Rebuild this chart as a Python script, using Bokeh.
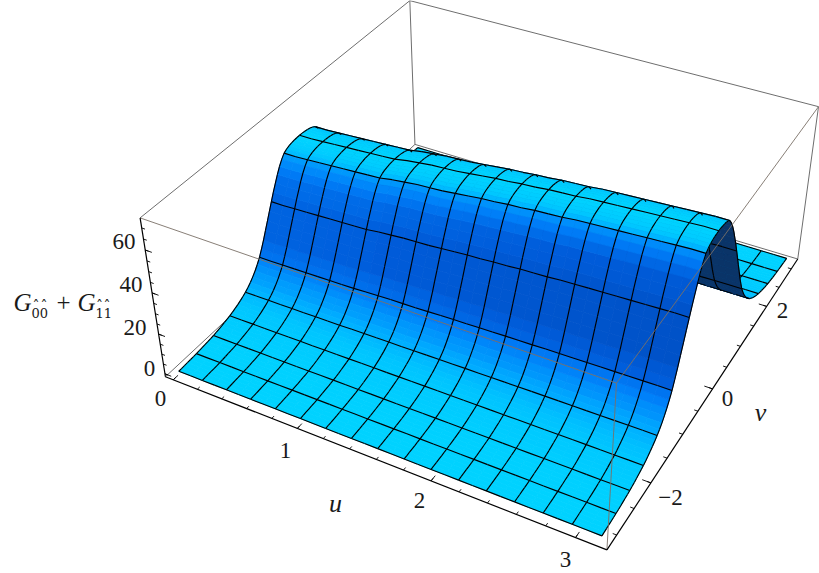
import numpy as np
from bokeh.plotting import figure
from bokeh.models import Range1d, ColumnDataSource
from bokeh.core.properties import value
from bokeh.embed import file_html
from bokeh.resources import INLINE

# ---- data ----
U_VALUES = [0.0, 0.098, 0.196, 0.295, 0.393, 0.491, 0.589, 0.687, 0.785, 0.884, 0.982, 1.08, 1.178, 1.276, 1.374,
            1.473, 1.571, 1.669, 1.767, 1.865, 1.963, 2.062, 2.16, 2.258, 2.356, 2.454, 2.553, 2.651, 2.749,
            2.847, 2.945, 3.043, 3.142]
CREST_SCALE = [0.80, 0.80, 0.805, 0.81, 0.815, 0.82, 0.825, 0.83, 0.835, 0.85, 0.86, 0.87, 0.875, 0.88, 0.89, 0.90,
               0.91, 0.915, 0.925, 0.93, 0.94, 0.945, 0.95, 0.96, 0.965, 0.97, 0.975, 0.98, 0.985, 0.99, 0.995,
               1.0, 1.0]
V_VALUES = [-3.142, -3.076, -3.011, -2.945, -2.88, -2.814, -2.749, -2.683, -2.618, -2.553, -2.487, -2.422, -2.356,
            -2.291, -2.225, -2.16, -2.094, -2.029, -1.963, -1.898, -1.833, -1.767, -1.702, -1.636, -1.571,
            -1.505, -1.44, -1.374, -1.309, -1.244, -1.178, -1.113, -1.047, -0.982, -0.916, -0.851, -0.785,
            -0.72, -0.654, -0.589, -0.524, -0.458, -0.393, -0.327, -0.262, -0.196, -0.131, -0.065, 0.0,
            0.065, 0.131, 0.196, 0.262, 0.327, 0.393, 0.458, 0.524, 0.589, 0.654, 0.72, 0.785,
            0.851, 0.916, 0.982, 1.047, 1.113, 1.178, 1.244, 1.309, 1.374, 1.44, 1.505, 1.571,
            1.636, 1.702, 1.767, 1.833, 1.898, 1.963, 2.029, 2.094, 2.16, 2.225, 2.291, 2.356,
            2.422, 2.487, 2.553, 2.618, 2.683, 2.749, 2.814, 2.88, 2.945, 3.011, 3.076, 3.142]
RIDGE_Z = [0.0, 0.1, 0.2, 0.3, 0.4, 0.52, 0.65, 0.82, 1.0, 1.2, 1.4, 1.64, 1.9, 2.23, 2.6, 3.03, 3.5, 3.98, 4.5,
           5.15, 5.9, 6.7, 7.6, 8.65, 9.8, 11.2, 12.8, 14.8, 17.0, 19.6, 22.6, 26.4, 30.5, 35.0, 39.5, 44.0, 48.5,
           52.9, 57.0, 61.0, 64.5, 67.4, 69.7, 70.8, 71.5, 71.9, 72.2, 72.35, 72.4,
           72.35, 72.2, 71.9, 71.5, 70.8, 69.7, 67.4, 64.5, 61.0, 57.0, 52.9, 48.5, 44.0, 39.5, 35.0, 30.5, 26.4,
           22.6, 19.6, 17.0, 14.8, 12.8, 11.2, 9.8, 8.65, 7.6, 6.7, 5.9, 5.15, 4.5, 3.98, 3.5, 3.03, 2.6, 2.23,
           1.9, 1.64, 1.4, 1.2, 1.0, 0.82, 0.65, 0.52, 0.4, 0.3, 0.2, 0.1, 0.0]
U_TICKS_MAJOR = [0, 1, 2, 3]
V_TICKS_MAJOR = [-2, 0, 2]
Z_TICKS_MAJOR = [0, 20, 40, 60]
U_TICKS_MINOR = [round(0.2 * i, 1) for i in range(16)]
V_TICKS_MINOR = [round(-3 + 0.5 * i, 1) for i in range(13)]
Z_TICKS_MINOR = [5 * i for i in range(15)]

# ---- view ----
CAMERA = np.array([[370.1024, 337.42817, -35.22092, 164.93556],
                   [108.50142, -201.8158, -174.26087, 376.23682],
                   [-0.11772, 0.21208, -0.07085, 1.0]])
Z_LOW, Z_HIGH = -1.5, 74.5
PAD = 0.02
SHADE_STOPS = [0.0, 0.15, 0.3, 0.6, 0.85, 1.0]
SHADE_RGB = [(0, 212, 255), (0, 198, 255), (0, 170, 255), (0, 125, 248), (0, 92, 218), (0, 82, 200)]
UNDERSIDE = "#0a3468"
BOX_COLOR = "#6e6e6e"


def to_box(u, v, z):
    a = PAD + (1 - 2 * PAD) * np.asarray(u, float) / np.pi
    b = PAD + (1 - 2 * PAD) * (np.asarray(v, float) + np.pi) / (2 * np.pi)
    c = (np.asarray(z, float) - Z_LOW) / (Z_HIGH - Z_LOW)
    return a, b, c


def project(a, b, c):
    h = np.tensordot(CAMERA, np.array([a, b, c, np.ones_like(a)], float), axes=1)
    return h[0] / h[2], h[1] / h[2], h[2]


def shade(t):
    return "#%02x%02x%02x" % tuple(int(round(np.interp(t, SHADE_STOPS, [r[k] for r in SHADE_RGB]))) for k in range(3))


U = np.array(U_VALUES)
V = np.array(V_VALUES)
Z = np.outer(CREST_SCALE, RIDGE_Z)
UU, VV = np.meshgrid(U, V, indexing="ij")
X, Y, W = project(*to_box(UU, VV, Z))

# slope of each face decides its colour
dz = np.abs(np.diff(Z, axis=1))[:-1, :]
slope = dz / dz.max()

xs, ys, fills, lines, widths, alphas, depth = [], [], [], [], [], [], []
nu, nv = len(U), len(V)
U_STEP, V_STEP = 2, 6
for i in range(nu - 1):
    for j in range(nv - 1):
        qx = [X[i, j], X[i + 1, j], X[i + 1, j + 1], X[i, j + 1]]
        qy = [Y[i, j], Y[i + 1, j], Y[i + 1, j + 1], Y[i, j + 1]]
        area = 0.5 * sum(qx[k] * qy[(k + 1) % 4] - qx[(k + 1) % 4] * qy[k] for k in range(4))
        col = shade(slope[i, j]) if area < 0 else UNDERSIDE
        xs.append(qx); ys.append(qy); fills.append(col); lines.append(col); widths.append(0.8); alphas.append(1.0)
        depth.append((W[i, j] + W[i + 1, j] + W[i + 1, j + 1] + W[i, j + 1]) / 4)
BIAS = 0.012
for i in range(0, nu, U_STEP):
    for j in range(nv - 1):
        xs.append([X[i, j], X[i, j + 1]]); ys.append([Y[i, j], Y[i, j + 1]])
        fills.append("#000000"); lines.append("#000000"); widths.append(1.15); alphas.append(0.0)
        depth.append((W[i, j] + W[i, j + 1]) / 2 - BIAS)
for j in range(0, nv, V_STEP):
    for i in range(nu - 1):
        xs.append([X[i, j], X[i + 1, j]]); ys.append([Y[i, j], Y[i + 1, j]])
        fills.append("#000000"); lines.append("#000000"); widths.append(1.15); alphas.append(0.0)
        depth.append((W[i, j] + W[i + 1, j]) / 2 - BIAS)
order = np.argsort(-np.array(depth), kind="stable")
surface = ColumnDataSource(dict(
    xs=[xs[k] for k in order], ys=[ys[k] for k in order],
    f=[fills[k] for k in order], l=[lines[k] for k in order],
    w=[widths[k] for k in order], fa=[alphas[k] for k in order]))

p = figure(width=819, height=573, x_range=Range1d(0, 819), y_range=Range1d(573, 0),
           x_axis_type=None, y_axis_type=None, toolbar_location=None, output_backend="svg",
           min_border=0, outline_line_color=None)
p.grid.visible = False
p.styles = {"position": "absolute", "left": "0px", "top": "0px"}


def box_line(a0, b0, c0, a1, b1, c1, color=BOX_COLOR, width=1.0):
    x, y, _ = project(np.array([a0, a1], float), np.array([b0, b1], float), np.array([c0, c1], float))
    p.line(x, y, line_color=color, line_width=width)


# box edges behind the surface
for e in [(0, 0, 0, 0, 1, 0), (0, 1, 0, 1, 1, 0), (0, 1, 0, 0, 1, 1), (1, 1, 0, 1, 1, 1),
          (0, 0, 1, 0, 1, 1), (0, 1, 1, 1, 1, 1)]:
    box_line(*e)

p.patches("xs", "ys", source=surface, fill_color="f", line_color="l", line_width="w", fill_alpha="fa")

# box edges in front of the surface
for e in [(0, 0, 1, 1, 0, 1), (1, 0, 1, 1, 1, 1), (1, 0, 0, 1, 0, 1)]:
    box_line(*e, color="#7a7068", width=0.9)

# the three axes with their ticks
box_line(0, 0, 0, 1, 0, 0, "#000000", 1.2)
box_line(1, 0, 0, 1, 1, 0, "#000000", 1.2)
box_line(0, 0, 0, 0, 0, 1, "#000000", 1.2)
for ticks, ln in ((U_TICKS_MINOR, 0.008), (U_TICKS_MAJOR, 0.016)):
    for t in ticks:
        a, _, _ = to_box(t, 0, 0)
        box_line(a, 0, 0, a, ln, 0, "#000000", 0.9)
for ticks, ln in ((V_TICKS_MINOR, 0.008), (V_TICKS_MAJOR, 0.018)):
    for t in ticks:
        _, b, _ = to_box(0, t, 0)
        box_line(1, b, 0, 1 - ln, b, 0, "#000000", 0.9)
for ticks, ln in ((Z_TICKS_MINOR, 0.008), (Z_TICKS_MAJOR, 0.016)):
    for t in ticks:
        _, _, c = to_box(0, 0, t)
        box_line(0, 0, c, ln, 0, c, "#000000", 0.9)

# ---- texts ----
SERIF = "Liberation Serif"


def label(x, y, s, size=23, style="normal", align="center", font=SERIF):
    p.text([x], [y], text=[s], text_font=value(font), text_font_size=f"{size}px", text_font_style=style,
           text_align=align, text_baseline="middle", text_color="#1a1a1a")


for s, x, y in [("0", 149, 368), ("20", 134.5, 327), ("40", 130.5, 284), ("60", 123.5, 241)]:
    label(x, y, s)
for s, x, y in [("0", 160, 398), ("1", 285, 450), ("2", 419, 500), ("3", 565, 559)]:
    label(x, y, s)
for s, x, y in [("\u22122", 670, 497), ("0", 727, 398), ("2", 782, 310)]:
    label(x, y, s)
label(335, 503, "u", size=26, style="italic")
label(760, 412, "v", size=26, style="italic")
label(13, 302, "G", size=25, style="italic", align="left")
label(31, 312, "00", size=13, align="left", font="DejaVu Serif")
label(63, 302, "+", size=25)
label(77, 302, "G", size=25, style="italic", align="left")
label(95, 312, "11", size=13, align="left", font="DejaVu Serif")
for x in (35.5, 43.5, 99, 106.5):
    label(x, 305, "\u02c6", size=14, font="DejaVu Serif")

open("out.html", "w").write(file_html(p, INLINE))
